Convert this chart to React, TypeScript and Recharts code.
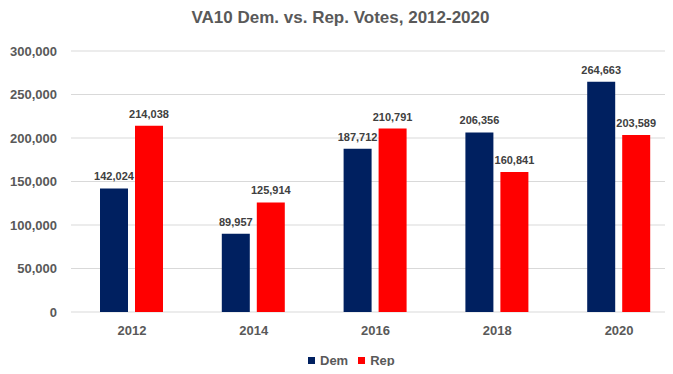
import { BarChart, Bar, XAxis, YAxis, CartesianGrid, LabelList } from "recharts";

const years = ["2012", "2014", "2016", "2018", "2020"];
const demVotes = [142024, 89957, 187712, 206356, 264663];
const repVotes = [214038, 125914, 210791, 160841, 203589];
const yTicks = [0, 50000, 100000, 150000, 200000, 250000, 300000];

const SERIES = [
  { key: "dem", name: "Dem", color: "#002060" },
  { key: "rep", name: "Rep", color: "#FF0000" },
];

const TEXT = "#595959";
const FONT = "'Liberation Sans', Arial, sans-serif";

const data = years.map((year, i) => ({
  year,
  dem: demVotes[i],
  rep: repVotes[i],
}));

const fmt = (v: number) => v.toLocaleString("en-US");

export default function App() {
  return (
    <div
      style={{
        position: "relative",
        width: 673,
        height: 374,
        margin: -8,
        overflow: "hidden",
        background: "#fff",
        borderLeft: "1px solid #d9d9d9",
        boxSizing: "border-box",
        fontFamily: FONT,
      }}
    >
      <div
        style={{
          position: "absolute",
          top: 8,
          left: 0,
          width: 679,
          textAlign: "center",
          fontSize: 17,
          fontWeight: "bold",
          color: TEXT,
        }}
      >
        VA10 Dem. vs. Rep. Votes, 2012-2020
      </div>
      <div style={{ position: "absolute", left: -1, top: 0 }}>
        <BarChart
          width={680}
          height={374}
          data={data}
          margin={{ top: 51, right: 0, left: 0, bottom: 32 }}
          barSize={28}
          barGap={7}
        >
          <CartesianGrid vertical={false} stroke="#d9d9d9" />
          <XAxis
            dataKey="year"
            axisLine={false}
            tickLine={false}
            tickMargin={8}
            height={30}
            tick={{ fill: TEXT, fontSize: 13, fontWeight: "bold", fontFamily: FONT }}
          />
          <YAxis
            width={71}
            domain={[0, 300000]}
            ticks={yTicks}
            axisLine={false}
            tickLine={false}
            tickMargin={8}
            tickFormatter={fmt}
            tick={{ fill: TEXT, fontSize: 13, fontWeight: "bold", fontFamily: FONT }}
          />
          {SERIES.map((s) => (
            <Bar key={s.key} dataKey={s.key} name={s.name} fill={s.color} isAnimationActive={false}>
              <LabelList
                dataKey={s.key}
                position="top"
                offset={8}
                formatter={(v: number) => fmt(v)}
                style={{ fill: "#404040", fontSize: 11, fontWeight: "bold", fontFamily: FONT }}
              />
            </Bar>
          ))}
        </BarChart>
      </div>
      <div
        style={{
          position: "absolute",
          left: 307,
          top: 353,
          display: "flex",
          alignItems: "center",
          fontSize: 13,
          fontWeight: "bold",
          color: TEXT,
        }}
      >
        {SERIES.map((s) => (
          <div key={s.key} style={{ display: "flex", alignItems: "center", marginRight: 10 }}>
            <span style={{ width: 7, height: 7, background: s.color, marginRight: 5 }} />
            <span>{s.name}</span>
          </div>
        ))}
      </div>
    </div>
  );
}
